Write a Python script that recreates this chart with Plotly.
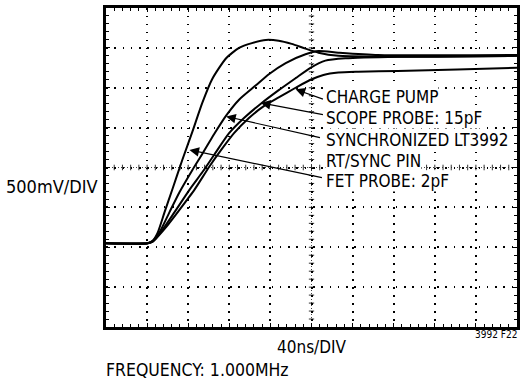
import plotly.graph_objects as go

# Time axis in ns (40 ns/div, 10 divisions), voltage in V (500 mV/div, 8 divisions)
T_DIV = 40.0
V_DIV = 0.5

# FET probe (2pF) at the RT/SYNC pin - fastest edge with overshoot
fet_t = [0, 40.6, 45.4, 50.2, 57.0, 64.7, 74.4, 84.1, 93.7, 103.4, 116.9, 129.5, 142.0,
         155.6, 168.1, 180.7, 194.2, 206.8, 226.1, 264.7, 322.7, 400]
fet_v = [-0.95, -0.95, -0.92, -0.82, -0.56, -0.27, 0.10, 0.45, 0.81, 1.11, 1.37, 1.50, 1.56,
         1.60, 1.59, 1.55, 1.49, 1.44, 1.40, 1.39, 1.39, 1.40]

# Synchronized LT3992 RT/SYNC pin
sync_t = [0, 40.6, 45.4, 52.2, 61.8, 71.5, 84.1, 93.7, 105.3, 116.9, 129.5, 145.9, 158.5,
          174.9, 194.2, 206.8, 226.1, 264.7, 400]
sync_v = [-0.95, -0.95, -0.92, -0.81, -0.56, -0.31, -0.03, 0.17, 0.42, 0.65, 0.85, 1.03, 1.17,
          1.31, 1.42, 1.46, 1.44, 1.41, 1.41]

# Scope probe (15pF)
scope_t = [0, 40.6, 45.4, 55.1, 66.7, 81.2, 93.7, 105.3, 119.8, 134.3, 150.7, 168.1, 184.5,
           199.0, 213.5, 232.9, 284.1, 400]
scope_v = [-0.95, -0.95, -0.93, -0.78, -0.56, -0.28, -0.06, 0.16, 0.43, 0.62, 0.80, 0.97, 1.12,
           1.25, 1.34, 1.37, 1.39, 1.40]

# Charge pump - slowest edge, lowest settled level
pump_t = [0, 40.6, 45.4, 58.9, 71.5, 86.0, 100.5, 112.1, 124.6, 139.1, 153.6, 168.1, 184.5,
          199.0, 211.6, 226.1, 245.4, 284.1, 342.0, 400]
pump_v = [-0.95, -0.95, -0.93, -0.74, -0.53, -0.28, 0.01, 0.22, 0.43, 0.62, 0.77, 0.88, 1.00,
          1.10, 1.16, 1.19, 1.20, 1.21, 1.23, 1.25]

# Label text and where each arrow touches its trace / where the leader ends
labels = ["CHARGE PUMP", "SCOPE PROBE: 15pF", "SYNCHRONIZED LT3992", "RT/SYNC PIN", "FET PROBE: 2pF"]
label_v = [0.885, 0.622, 0.346, 0.083, -0.170]
label_t = 213.0
arrow_tip = [(184.5, 0.98), (150.7, 0.81), (116.9, 0.64), (81.2, 0.22)]
arrow_tail = [(212.6, 0.85), (212.6, 0.66), (209.7, 0.37), (211.6, -0.13)]

FONT = "DejaVu Sans Condensed, Liberation Sans Narrow, Arial Narrow, sans-serif"

fig = go.Figure()
for t, v in [(fet_t, fet_v), (sync_t, sync_v), (scope_t, scope_v), (pump_t, pump_v)]:
    fig.add_trace(go.Scatter(x=t, y=v, mode="lines",
                             line=dict(color="black", width=2, shape="spline", smoothing=0.6),
                             hoverinfo="skip", showlegend=False))

# Centre crosshair: fine dotted lines with small ticks at every minor division
shapes = []
shapes.append(dict(type="line", x0=0, x1=400, y0=0, y1=0, xref="x", yref="y",
                   line=dict(color="#444", width=1, dash="1px,2px"), layer="below"))
shapes.append(dict(type="line", x0=200, x1=200, y0=-2, y1=2, xref="x", yref="y",
                   line=dict(color="#444", width=1, dash="1px,2px"), layer="below"))
for i in range(1, 50):
    tx = i * T_DIV / 5
    shapes.append(dict(type="line", x0=tx, x1=tx, y0=-0.035, y1=0.035, xref="x", yref="y",
                       line=dict(color="#333", width=1), layer="below"))
for i in range(1, 40):
    vy = -2 + i * V_DIV / 5
    shapes.append(dict(type="line", x0=200 - 2.6, x1=200 + 2.6, y0=vy, y1=vy, xref="x", yref="y",
                       line=dict(color="#333", width=1), layer="below"))

annotations = []
for txt, vy in zip(labels, label_v):
    annotations.append(dict(x=label_t, y=vy, xref="x", yref="y", text=txt, showarrow=False,
                            xanchor="left", yanchor="middle", bgcolor="white", borderpad=0,
                            font=dict(family=FONT, size=17, color="black")))
for (xt, yt), (xa, ya) in zip(arrow_tip, arrow_tail):
    annotations.append(dict(x=xt, y=yt, ax=xa, ay=ya, xref="x", yref="y", axref="x", ayref="y",
                            text="", showarrow=True, arrowhead=2, arrowsize=1.6,
                            arrowwidth=1.2, arrowcolor="black", standoff=0, startstandoff=0))

annotations += [
    dict(x=-0.014, y=0.439, xref="paper", yref="paper", text="500mV/DIV", showarrow=False,
         xanchor="right", yanchor="middle", font=dict(family=FONT, size=18, color="black")),
    dict(x=0.5, y=-0.063, xref="paper", yref="paper", text="40ns/DIV", showarrow=False,
         xanchor="center", yanchor="middle", font=dict(family=FONT, size=17, color="black")),
    dict(x=1.006, y=-0.022, xref="paper", yref="paper", text="3992 F22", showarrow=False,
         xanchor="right", yanchor="middle", font=dict(family=FONT, size=10, color="black")),
    dict(x=-0.005, y=-0.135, xref="paper", yref="paper", text="FREQUENCY: 1.000MHz", showarrow=False,
         xanchor="left", yanchor="middle", font=dict(family=FONT, size=17.5, color="black")),
]

axis_common = dict(showticklabels=False, showline=True, linecolor="black", linewidth=3,
                   mirror="ticks", ticks="inside", ticklen=4, tickcolor="black", tickwidth=1,
                   zeroline=False, showgrid=True, gridcolor="black", gridwidth=1.5,
                   fixedrange=True)

fig.update_xaxes(range=[0, 10 * T_DIV], dtick=T_DIV, tick0=0, griddash="1.5px,6.475px",
                 minor=dict(dtick=T_DIV / 5, ticks="inside", ticklen=3, tickcolor="black",
                            showgrid=False),
                 **axis_common)
fig.update_yaxes(range=[-4 * V_DIV, 4 * V_DIV], dtick=V_DIV, tick0=0, griddash="1.5px,6.78px",
                 minor=dict(dtick=V_DIV / 5, ticks="inside", ticklen=3, tickcolor="black",
                            showgrid=False),
                 **axis_common)

fig.update_layout(width=522, height=379, margin=dict(l=106, r=2, t=8, b=52),
                  plot_bgcolor="white", paper_bgcolor="white",
                  shapes=shapes, annotations=annotations, showlegend=False)

fig.write_html("out.html", config={"displayModeBar": False})
